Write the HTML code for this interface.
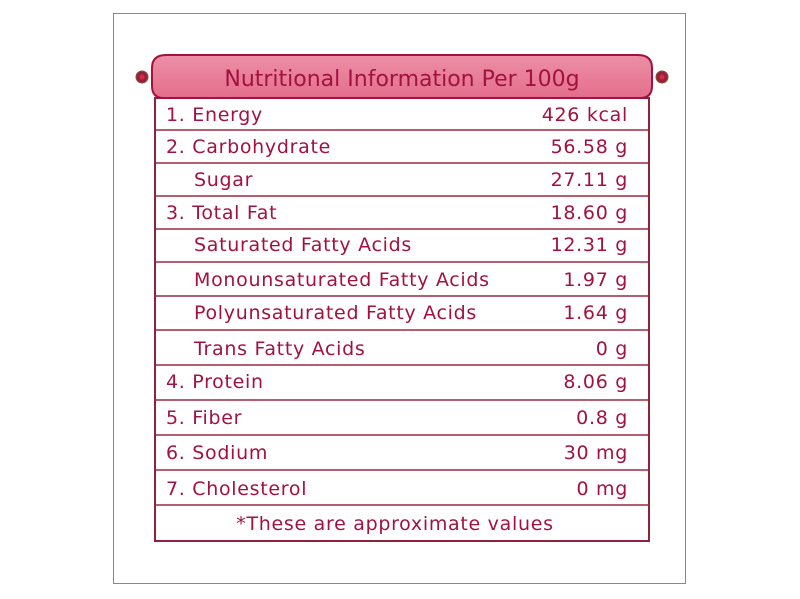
<!DOCTYPE html>
<html><head><meta charset="utf-8"><style>
html,body{margin:0;padding:0;background:#fff;width:800px;height:599px;overflow:hidden}
svg{display:block}
text{font-family:"DejaVu Sans","Liberation Sans",sans-serif;fill:#a3123f;font-size:19px;letter-spacing:0.7px}
</style></head><body>
<svg width="800" height="599" viewBox="0 0 800 599">
<defs><linearGradient id="g" x1="0" y1="0" x2="0" y2="1"><stop offset="0" stop-color="#ec8fa6"/><stop offset="1" stop-color="#e46e8c"/></linearGradient></defs>
<rect x="113.5" y="13.5" width="572" height="570" fill="#fff" stroke="#888" stroke-width="1"/>
<rect x="155" y="98" width="494" height="443" fill="#fff" stroke="#8e2238" stroke-width="2"/>
<g stroke="#9a2a40" stroke-width="1.5">
<line x1="155" x2="649" y1="130" y2="130"/><line x1="155" x2="649" y1="163" y2="163"/>
<line x1="155" x2="649" y1="196" y2="196"/><line x1="155" x2="649" y1="229" y2="229"/>
<line x1="155" x2="649" y1="262" y2="262"/><line x1="155" x2="649" y1="296" y2="296"/>
<line x1="155" x2="649" y1="330" y2="330"/><line x1="155" x2="649" y1="365" y2="365"/>
<line x1="155" x2="649" y1="400" y2="400"/><line x1="155" x2="649" y1="435" y2="435"/>
<line x1="155" x2="649" y1="470" y2="470"/><line x1="155" x2="649" y1="505" y2="505"/>
</g>
<path d="M166,55 L638,55 Q652,55 652,68 L652,86 Q652,98 640,98 L164,98 Q152,98 152,86 L152,68 Q152,55 166,55 Z" fill="url(#g)" stroke="#a3123f" stroke-width="2"/>
<g fill="#9e1e3a" stroke="#7a5a3a" stroke-width="1">
<circle cx="142" cy="77" r="6"/><circle cx="662" cy="77" r="6"/>
</g>
<circle cx="142" cy="77" r="2.5" fill="#c9304d"/><circle cx="662" cy="77" r="2.5" fill="#c9304d"/>
<text x="402" y="86" text-anchor="middle" style="font-size:22px;letter-spacing:0">Nutritional Information Per 100g</text>
<g>
<text x="166" y="121">1. Energy</text><text x="628" y="121" text-anchor="end">426 kcal</text>
<text x="166" y="153">2. Carbohydrate</text><text x="628" y="153" text-anchor="end">56.58 g</text>
<text x="194" y="186">Sugar</text><text x="628" y="186" text-anchor="end">27.11 g</text>
<text x="166" y="219">3. Total Fat</text><text x="628" y="219" text-anchor="end">18.60 g</text>
<text x="194" y="251">Saturated Fatty Acids</text><text x="628" y="251" text-anchor="end">12.31 g</text>
<text x="194" y="286">Monounsaturated Fatty Acids</text><text x="628" y="286" text-anchor="end">1.97 g</text>
<text x="194" y="319">Polyunsaturated Fatty Acids</text><text x="628" y="319" text-anchor="end">1.64 g</text>
<text x="194" y="355">Trans Fatty Acids</text><text x="628" y="355" text-anchor="end">0 g</text>
<text x="166" y="388">4. Protein</text><text x="628" y="388" text-anchor="end">8.06 g</text>
<text x="166" y="424">5. Fiber</text><text x="628" y="424" text-anchor="end">0.8 g</text>
<text x="166" y="459">6. Sodium</text><text x="628" y="459" text-anchor="end">30 mg</text>
<text x="166" y="495">7. Cholesterol</text><text x="628" y="495" text-anchor="end">0 mg</text>
<text x="395" y="530" text-anchor="middle">*These are approximate values</text>
</g>
</svg>
</body></html>
